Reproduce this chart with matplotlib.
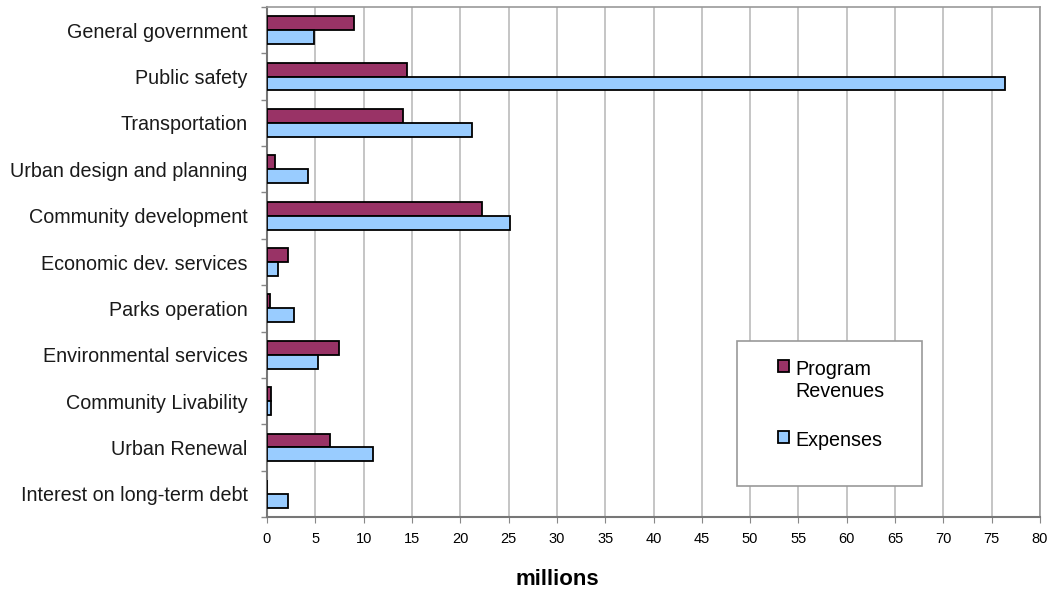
import matplotlib.pyplot as plt
import numpy as np
from matplotlib.patches import Rectangle

# Categories (top to bottom) and values in millions
categories = ["General government", "Public safety", "Transportation",
              "Urban design and planning", "Community development",
              "Economic dev. services", "Parks operation",
              "Environmental services", "Community Livability",
              "Urban Renewal", "Interest on long-term debt"]
revenues = [9.0, 14.5, 14.1, 0.8, 22.2, 2.2, 0.35, 7.4, 0.4, 6.5, 0.0]
expenses = [4.85, 76.4, 21.2, 4.2, 25.1, 1.1, 2.75, 5.3, 0.45, 11.0, 2.2]
xticks = list(range(0, 85, 5))

plt.rcParams['font.family'] = ['Liberation Sans', 'DejaVu Sans']

fig = plt.figure(figsize=(10.52, 5.9), dpi=100)
ax = fig.add_axes([0.2538, 0.1237, 0.7348, 0.8644])

y = np.arange(len(categories))
h = 0.3
ax.barh(y - h / 2, revenues, height=h, color="#993366", edgecolor="black",
        linewidth=1.3, label="Program\nRevenues", zorder=3)
ax.barh(y + h / 2, expenses, height=h, color="#99CCFF", edgecolor="black",
        linewidth=1.3, label="Expenses", zorder=3)

ax.set_ylim(len(categories) - 0.5, -0.5)
ax.set_xlim(0, 80)
ax.set_yticks(y)
ax.set_yticklabels(categories, fontsize=14.2, color="#1a1a1a")
ax.set_yticks(np.arange(-0.5, len(categories), 1), minor=True)
ax.tick_params(axis="y", which="major", length=0, pad=14)
ax.tick_params(axis="y", which="minor", length=4, color="#888888", width=1)

ax.set_xticks(xticks)
ax.set_xticklabels([str(t) for t in xticks], fontsize=10.5,
                   family=['Liberation Sans Narrow', 'Liberation Sans'])
ax.tick_params(axis="x", length=4, color="#888888", pad=7)

ax.grid(axis="x", color="#bbbbbb", linewidth=1.2, zorder=0)
for side in ["top", "right"]:
    ax.spines[side].set_color("#999999")
    ax.spines[side].set_linewidth(1.2)
for side in ["left", "bottom"]:
    ax.spines[side].set_color("#777777")
    ax.spines[side].set_linewidth(1.5)

# legend box
box = Rectangle((0.608, 0.061), 0.239, 0.284, transform=ax.transAxes,
                facecolor="white", edgecolor="#999999", linewidth=1.2,
                zorder=4)
ax.add_patch(box)
leg = ax.legend(loc="upper left", bbox_to_anchor=(0.661, 0.307),
                fontsize=14.2, frameon=False,
                handlelength=0.55, handleheight=0.55, handletextpad=0.35,
                borderpad=0, labelspacing=1.5, borderaxespad=0)
leg.set_zorder(5)
for col in leg._legend_handle_box.get_children():
    for item in col.get_children():
        item.align = "top"

fig.text(0.53, 0.0, "millions", fontsize=16, fontweight="bold",
         ha="center", va="bottom")

fig.savefig("out.png", dpi=100)
